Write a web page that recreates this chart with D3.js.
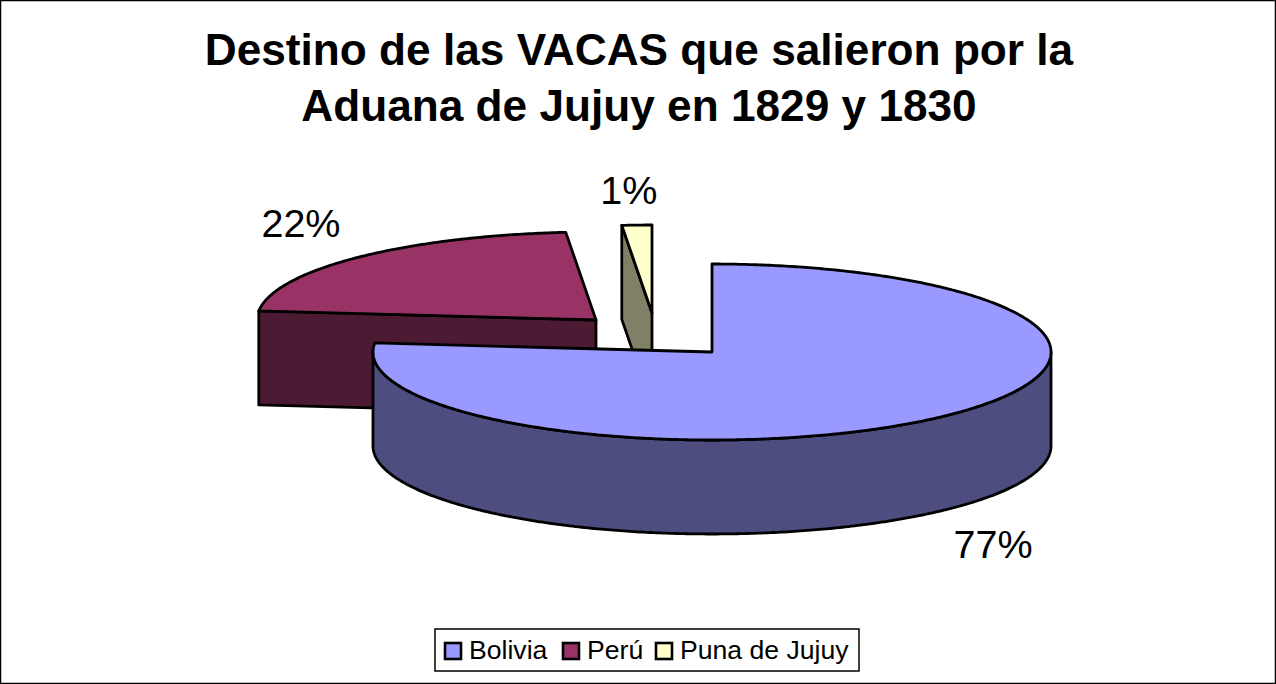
<!DOCTYPE html>
<html>
<head>
<meta charset="utf-8">
<script src="https://cdn.jsdelivr.net/npm/d3@7"></script>
<style>
  html, body { margin: 0; padding: 0; background: #fff; }
  svg { display: block; }
  text { font-family: "Liberation Sans", Arial, sans-serif; fill: #000; }
</style>
</head>
<body>
<div id="chart"></div>
<script>
// Chart data
const titleLines = ["Destino de las VACAS que salieron por la", "Aduana de Jujuy en 1829 y 1830"];
const categories = ["Bolivia", "Perú", "Puna de Jujuy"];
const shares = [76.64, 21.94, 1.42];
const colors = ["#9999FF", "#993366", "#FFFFCC"];

const width = 1276;
const height = 684;

// Ellipse of the tilted pie
const rx = 339;
const ry = 88;
const depth = 94;

// Centre of each slice once pulled out of the pie
const centers = [[712, 352], [596, 320], [652, 313]];
// Label position relative to the rim point at the middle of the slice
const labelOffsets = [[54, 141], [-57, -20], [-8, -21]];

const svg = d3.select("#chart")
    .append("svg")
    .attr("width", width)
    .attr("height", height);

// Outer frame
svg.append("rect")
    .attr("x", 0.5)
    .attr("y", 0.5)
    .attr("width", width - 1)
    .attr("height", height - 1)
    .attr("fill", "#fff")
    .attr("stroke", "#000")
    .attr("stroke-width", 1.5);

// Title
svg.selectAll(".title")
    .data(titleLines)
    .enter().append("text")
    .attr("class", "title")
    .attr("x", 639)
    .attr("y", (d, i) => 65 + i * 56)
    .attr("text-anchor", "middle")
    .attr("font-size", 44.2)
    .attr("font-weight", "bold")
    .text(d => d);

const pie = d3.pie().sort(null).startAngle(0).endAngle(2 * Math.PI);
const slices = pie(shares);

// Point on the rim for an angle measured clockwise from the top
function rim(i, angle, drop) {
    const [cx, cy] = centers[i];
    return [cx + rx * Math.sin(angle), cy - ry * Math.cos(angle) + (drop || 0)];
}

// Points along the rim between two angles
function rimPoints(i, a0, a1, drop) {
    const steps = Math.max(2, Math.ceil(Math.abs(a1 - a0) / 0.01));
    return d3.range(steps + 1).map(k => rim(i, a0 + (a1 - a0) * k / steps, drop));
}

function darker(color) {
    const c = d3.rgb(color);
    return d3.rgb(c.r / 2, c.g / 2, c.b / 2).formatHex();
}

const line = d3.line();

// Far slices first so the big one sits in front
d3.range(slices.length).reverse().forEach(function(i) {
    const s = slices[i];
    const [cx, cy] = centers[i];
    const g = svg.append("g").attr("class", "slice");
    const side = darker(colors[i]);

    // Cut face, only when it looks towards the viewer
    if (Math.sin(s.startAngle) < -1e-6) {
        g.append("path")
            .attr("d", line([rim(i, s.startAngle), [cx, cy], [cx, cy + depth], rim(i, s.startAngle, depth)]) + "Z")
            .attr("fill", side);
    }

    // Outer wall, the front half of the rim
    const a0 = Math.max(s.startAngle, Math.PI / 2);
    const a1 = Math.min(s.endAngle, 3 * Math.PI / 2);
    if (a1 > a0) {
        const top = rimPoints(i, a0, a1);
        const bottom = rimPoints(i, a1, a0, depth);
        g.append("path")
            .attr("d", line(top.concat(bottom)) + "Z")
            .attr("fill", side);
    }

    // Top face
    const topFace = [[cx, cy]].concat(rimPoints(i, s.startAngle, s.endAngle));
    g.append("path")
        .attr("d", line(topFace) + "Z")
        .attr("fill", colors[i]);

    g.selectAll("path")
        .attr("stroke", "#000")
        .attr("stroke-width", 2.8)
        .attr("stroke-linejoin", "round");
});

// Percentage labels
const percent = d3.format(".0f");
svg.selectAll(".label")
    .data(slices)
    .enter().append("text")
    .attr("class", "label")
    .attr("x", (d, i) => rim(i, (d.startAngle + d.endAngle) / 2)[0] + labelOffsets[i][0])
    .attr("y", (d, i) => rim(i, (d.startAngle + d.endAngle) / 2)[1] + labelOffsets[i][1])
    .attr("text-anchor", "middle")
    .attr("font-size", 39.5)
    .text(d => percent(d.data) + "%");

// Legend
const legend = svg.append("g").attr("class", "legend");
legend.append("rect")
    .attr("x", 435)
    .attr("y", 629)
    .attr("width", 424)
    .attr("height", 42)
    .attr("fill", "#fff")
    .attr("stroke", "#000")
    .attr("stroke-width", 1.5);

const legendX = d3.scaleOrdinal().domain(categories).range([445, 563, 656]);
categories.forEach(function(name, i) {
    legend.append("rect")
        .attr("x", legendX(name))
        .attr("y", 643)
        .attr("width", 16)
        .attr("height", 16)
        .attr("fill", colors[i])
        .attr("stroke", "#000")
        .attr("stroke-width", 2.6);
    legend.append("text")
        .attr("x", legendX(name) + 24)
        .attr("y", 659)
        .attr("font-size", 26.6)
        .text(name);
});
</script>
</body>
</html>
